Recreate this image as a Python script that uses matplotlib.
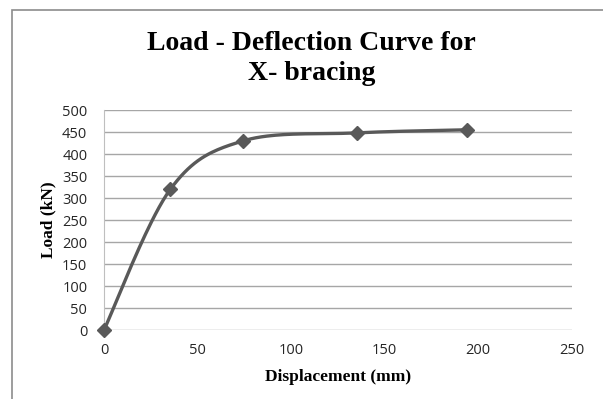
import matplotlib

matplotlib.use("Agg")

import matplotlib.pyplot as plt
import numpy as np
from matplotlib.patches import Rectangle

# Load-deflection readings for the X-braced frame
displacement_mm = [0, 35.5, 74.5, 135, 194]
load_kn = [0, 320, 430, 448, 455]

x_ticks = [0, 50, 100, 150, 200, 250]
y_ticks = [0, 50, 100, 150, 200, 250, 300, 350, 400, 450, 500]

LINE_COLOR = "#595959"
GRID_COLOR = "#a6a6a6"


def smooth_curve(xs, ys, x_span, y_span, n=40):
    """Spreadsheet-style smoothed line: cubic Bezier through each point,
    control points taken from neighbouring points (tension 1/6)."""
    px = np.asarray(xs, float) / x_span
    py = np.asarray(ys, float) / y_span
    pts = np.column_stack([px, py])
    out = []
    t = np.linspace(0, 1, n)[:, None]
    for i in range(len(pts) - 1):
        p0 = pts[i - 1] if i > 0 else pts[i]
        p1, p2 = pts[i], pts[i + 1]
        p3 = pts[i + 2] if i + 2 < len(pts) else pts[i + 1]
        c1 = p1 + (p2 - p0) / 6
        c2 = p2 - (p3 - p1) / 6
        seg = ((1 - t) ** 3 * p1 + 3 * (1 - t) ** 2 * t * c1
               + 3 * (1 - t) * t ** 2 * c2 + t ** 3 * p2)
        out.append(seg if i == 0 else seg[1:])
    curve = np.vstack(out)
    return curve[:, 0] * x_span, curve[:, 1] * y_span


fig = plt.figure(figsize=(6.03, 3.99), dpi=100)
ax = fig.add_axes([104 / 603, 69 / 399, 467.7 / 603, 220 / 399])

# chart frame
fig.patches.append(Rectangle((12 / 603, -0.05), 1.2, (389 / 399) + 0.05,
                             transform=fig.transFigure, fill=False,
                             edgecolor="#8c8c8c", linewidth=1.2))

cx, cy = smooth_curve(displacement_mm, load_kn, 250 * 1.0, 500 * 0.47)
ax.plot(cx, cy, color=LINE_COLOR, linewidth=2.4, zorder=3, clip_on=False)
ax.plot(displacement_mm, load_kn, linestyle="none", marker="D",
        markersize=7, color=LINE_COLOR, zorder=4, clip_on=False)

ax.set_xlim(0, 250)
ax.set_ylim(0, 500)
ax.set_xticks(x_ticks)
ax.set_yticks(y_ticks)
ax.yaxis.grid(True, color=GRID_COLOR, linewidth=1.0)
ax.set_axisbelow(True)
for side in ("top", "right", "bottom"):
    ax.spines[side].set_visible(False)
ax.spines["left"].set_color("#bfbfbf")
ax.tick_params(length=0, labelsize=10.5, labelcolor="#262626")
ax.tick_params(axis="y", pad=12)
ax.tick_params(axis="x", pad=9)
for lbl in ax.get_xticklabels() + ax.get_yticklabels():
    lbl.set_fontfamily("Open Sans")

ax.set_xlabel("Displacement (mm)", fontfamily="Liberation Serif",
              fontweight="bold", fontsize=12.5, labelpad=8)
ax.set_ylabel("Load (kN)", fontfamily="Liberation Serif",
              fontweight="bold", fontsize=12.5, labelpad=4)

fig.text(0.517, 0.785, "Load - Deflection Curve for\nX- bracing",
         ha="center", va="bottom", fontfamily="Liberation Serif",
         fontweight="bold", fontsize=20, linespacing=1.25)

fig.savefig("out.png", dpi=100)
